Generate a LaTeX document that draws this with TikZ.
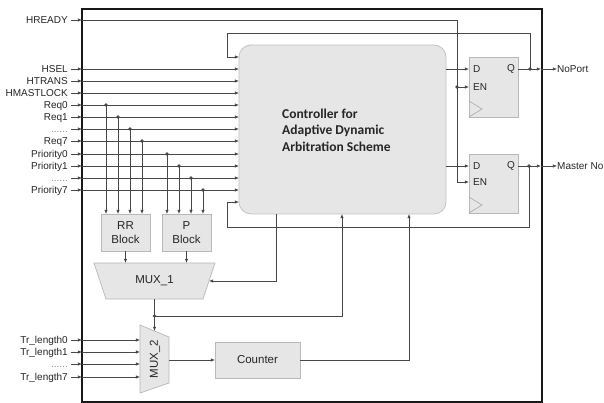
\documentclass[tikz,border=0pt]{standalone}
\usepackage{fontspec}
\setmainfont{Liberation Sans}
\newfontfamily\ctrlfont{Carlito}
\usetikzlibrary{arrows.meta,calc}
\definecolor{wirec}{HTML}{484848}
\definecolor{boxfill}{HTML}{E6E6E6}
\definecolor{boxline}{HTML}{B8B8B8}
\definecolor{dotc}{HTML}{8C8C8C}
\definecolor{txtc}{HTML}{262626}

\begin{document}
\begin{tikzpicture}[x=1pt,y=-1pt,
  wire/.style={draw=wirec, line width=0.7pt},
  arr/.style={wire, -{Latex[length=4.2pt,width=3.6pt]}},
  jn/.style={circle, fill=wirec, inner sep=0pt, minimum size=3.8pt},
  blk/.style={draw=boxline, fill=boxfill, line width=0.7pt},
  blkbox/.style={blk, inner sep=0pt, outer sep=0pt, align=center,
    font=\fontsize{11.5}{14}\selectfont, text=txtc},
  sig/.style={anchor=base east, inner sep=0pt, font=\fontsize{10}{12}\selectfont, text=txtc},
  ffl/.style={inner sep=0pt, font=\fontsize{10}{12}\selectfont, text=txtc},
  btext/.style={inner sep=0pt, font=\fontsize{11.5}{14}\selectfont, text=txtc}]

\useasboundingbox (0,0) rectangle (604,403);
\clip (0,0) rectangle (604,403);
\fill[white] (0,0) rectangle (604,403);

% chip outline
\node[draw=black!90, line width=1.8pt, inner sep=0pt, outer sep=0pt,
      minimum width=460pt, minimum height=393pt] (chip) at (312,205.5) {};

% arbitration controller
\node[draw=boxline!85, fill=boxfill, line width=0.8pt, rounded corners=12pt,
      minimum width=207pt, minimum height=169pt, inner sep=0pt, outer sep=0pt]
      (ctrl) at (342.5,129.5) {};
\node[anchor=west, align=left, inner sep=0pt, text=txtc,
      font=\ctrlfont\bfseries\fontsize{13.5}{16.5}\selectfont]
      (ctrltext) at (282,130) {Controller for\\Adaptive Dynamic\\Arbitration Scheme};

% ports on the controller
\coordinate (fbin1) at (239,57);
\coordinate (fbin2) at (239,202);
\coordinate (cb1) at (276,214);
\coordinate (cb2) at (342,214);
\coordinate (cb3) at (409,214);

% bus inputs into the controller
\node[sig] (labHREADY) at (68,23.6) {HREADY};
\coordinate (edgeHREADY) at (82,20);
\draw[arr] (71,20) -- (edgeHREADY);

\foreach \n/\t/\y in {HSEL/HSEL/69, HTRANS/HTRANS/81, HMASTLOCK/HMASTLOCK/93,
    ReqA/Req0/105, ReqB/Req1/117, ReqC/{\textcolor{dotc}{......}}/129, ReqH/Req7/141,
    PriA/Priority0/154, PriB/Priority1/166, PriC/{\textcolor{dotc}{......}}/178, PriH/Priority7/190}{
  \node[sig] (lab\n) at (68,\y+3.6) {\t};
  \coordinate (edge\n) at (82,\y);
  \coordinate (cin\n) at (239,\y);
  \draw[arr] (71,\y) -- (edge\n);
  \draw[arr] (edge\n) -- (cin\n);
}

% round-robin and priority blocks
\node[blkbox, minimum width=49pt, minimum height=37pt] (rr) at (125.5,232.5) {RR\\Block};
\node[blkbox, minimum width=49pt, minimum height=37pt] (pb) at (186.5,232.5) {P\\Block};

\foreach \n/\x/\y in {ReqA/106/105, ReqB/118/117, ReqC/130/129, ReqH/142/141,
    PriA/167/154, PriB/179/166, PriC/191/178, PriH/203/190}{
  \node[jn] (tap\n) at (\x,\y) {};
  \draw[arr] (tap\n.center) -- (tap\n |- rr.north);
}

% MUX_1
\coordinate (m1a) at (94,263);
\coordinate (m1b) at (215,263);
\coordinate (m1c) at (203,299);
\coordinate (m1d) at (106,299);
\draw[blk] (m1a) -- (m1b) -- (m1c) -- (m1d) -- cycle;
\node[btext] (mux1) at (154.5,281) {MUX\_1};
\coordinate (m1r) at (209,281);
\draw[arr] (rr.south) -- (rr.south |- m1a);
\draw[arr] (pb.south) -- (pb.south |- m1a);
\draw[arr] (cb1) |- (m1r);

% MUX_2
\coordinate (m2a) at (140,325);
\coordinate (m2b) at (169,337);
\coordinate (m2c) at (169,383);
\coordinate (m2d) at (140,393);
\draw[blk] (m2a) -- (m2b) -- (m2c) -- (m2d) -- cycle;
\node[btext, rotate=90] (mux2) at (155,359) {MUX\_2};
\coordinate (m2t) at (154.5,331);
\coordinate (m2o) at (169,360);

\node[jn] (j1) at (154.5,316) {};
\draw[arr] (mux1 |- m1d) -- (m2t);
\draw[arr] (j1.center) -| (cb2);

\foreach \n/\t/\y in {TrA/Tr\_length0/340, TrB/Tr\_length1/352,
    TrC/{\textcolor{dotc}{......}}/364, TrH/Tr\_length7/377}{
  \node[sig] (lab\n) at (68,\y+3.6) {\t};
  \coordinate (edge\n) at (82,\y);
  \coordinate (min\n) at (140,\y);
  \draw[arr] (71,\y) -- (edge\n);
  \draw[arr] (edge\n) -- (min\n);
}

% transfer length counter
\node[blkbox, minimum width=85pt, minimum height=36pt] (counter) at (257.5,360) {Counter};
\draw[arr] (m2o) -- (counter.west |- m2o);
\draw[arr] (counter.east) -| (cb3);

% output registers
\node[blk, minimum width=49pt, minimum height=60pt, inner sep=0pt, outer sep=0pt] (ff1) at (493.5,87) {};
\node[blk, minimum width=49pt, minimum height=59pt, inner sep=0pt, outer sep=0pt] (ff2) at (493.5,183.5) {};
\draw[draw=boxline!120, line width=0.6pt] (469,101) -- (482,109) -- (469,117);
\draw[draw=boxline!120, line width=0.6pt] (469,197) -- (482,205) -- (469,213);
\node[ffl, anchor=west] (ff1d) at (473,69) {D};
\node[ffl, anchor=east] (ff1q) at (515,69) {Q};
\node[ffl, anchor=west] (ff1en) at (473,87) {EN};
\node[ffl, anchor=west] (ff2d) at (473,166) {D};
\node[ffl, anchor=east] (ff2q) at (515,166) {Q};
\node[ffl, anchor=west] (ff2en) at (473,182) {EN};

\coordinate (d1) at (469,69);
\coordinate (en1) at (469,87);
\coordinate (d2) at (469,166);
\coordinate (en2) at (469,182);
\draw[arr] (ctrl.east |- d1) -- (d1);
\draw[arr] (ctrl.east |- d2) -- (d2);

% HREADY enables both registers
\coordinate (hr) at (457,20);
\draw[arr] (edgeHREADY) -| (hr |- en2) -- (en2);
\node[jn] (hrj) at (hr |- en1) {};
\draw[arr] (hrj.center) -- (en1);

% register outputs and feedback into the controller
\coordinate (q1) at (518,69);
\coordinate (q2) at (518,166);
\node[jn] (qj1) at (530,69) {};
\node[jn] (qj2) at (529,166) {};
\coordinate (o1) at (541,69);
\coordinate (o2) at (541,166);
\node[ffl, anchor=west] (outA) at (557,69) {NoPort};
\node[ffl, anchor=west] (outB) at (557,166) {Master No};
\draw[arr] (q1) -- (o1);
\draw[arr] (q2) -- (o2);
\draw[arr] (o1) -- (outA.west);
\draw[arr] (o2) -- (outB.west);

\draw[arr] (qj1.center) -- (530,33) -- (227,33) |- (fbin1);
\draw[arr] (qj2.center) -- (529,227) -- (227,227) |- (fbin2);
\end{tikzpicture}
\end{document}
